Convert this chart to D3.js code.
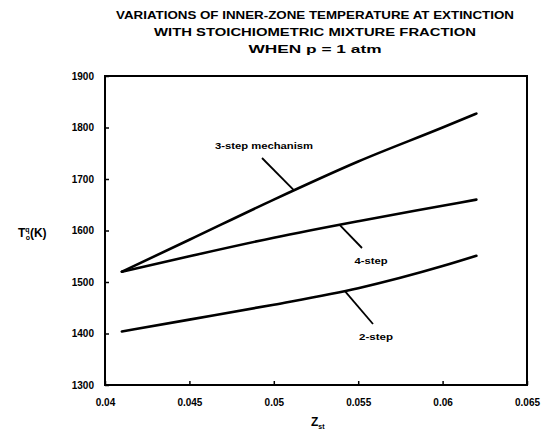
<!DOCTYPE html>
<html>
<head>
<meta charset="utf-8">
<script src="https://cdn.jsdelivr.net/npm/d3@7"></script>
<style>
  body { margin: 0; background: #fff; }
  svg { display: block; font-family: "Liberation Sans", Arial, sans-serif; font-weight: bold; }
</style>
</head>
<body>
<svg id="chart" width="543" height="435"></svg>
<script>
// valeurs
const zst = [0.041, 0.045, 0.05, 0.055, 0.06, 0.062];
const troisEtapes = [1520, 1582, 1660, 1734, 1800, 1827];
const quatreEtapes = [1520, 1550, 1586, 1618, 1648, 1660];
const deuxEtapes = [1404, 1427, 1456, 1488, 1531, 1551];
const xTicks = [0.04, 0.045, 0.05, 0.055, 0.06, 0.065];
const xTickLabels = ["0.04", "0.045", "0.05", "0.055", "0.06", "0.065"];
const yTicks = [1300, 1400, 1500, 1600, 1700, 1800, 1900];
const titres = [
  "VARIATIONS OF INNER-ZONE TEMPERATURE AT EXTINCTION",
  "WITH STOICHIOMETRIC MIXTURE FRACTION",
  "WHEN p = 1 atm"
];

const svg = d3.select("#chart");
const margin = { top: 76, right: 16, bottom: 50, left: 105 };
const width = 543 - margin.left - margin.right;
const height = 435 - margin.top - margin.bottom;

const g = svg.append("g")
    .attr("transform", `translate(${margin.left}, ${margin.top})`);

const x = d3.scaleLinear().domain([0.04, 0.065]).range([0, width]);
const y = d3.scaleLinear().domain([1300, 1900]).range([height, 0]);

// titre
const largeurs = [398, 322, 133];
titres.forEach((t, i) => {
  svg.append("text")
      .attr("x", 315)
      .attr("y", 19 + i * 17)
      .attr("text-anchor", "middle")
      .attr("font-size", 11)
      .attr("textLength", largeurs[i])
      .attr("lengthAdjust", "spacingAndGlyphs")
      .text(t);
});

// cadre
g.append("rect")
    .attr("width", width)
    .attr("height", height)
    .attr("fill", "none")
    .attr("stroke", "#000")
    .attr("stroke-width", 2);

// axes
const xAxis = d3.axisBottom(x)
    .tickValues(xTicks)
    .tickFormat((d, i) => xTickLabels[i])
    .tickSize(-4)
    .tickPadding(14);
const yAxis = d3.axisLeft(y)
    .tickValues(yTicks)
    .tickFormat(d3.format("d"))
    .tickSize(-4)
    .tickPadding(11);

g.append("g")
    .attr("transform", `translate(0, ${height})`)
    .call(xAxis)
    .call(a => a.select(".domain").remove());
g.append("g")
    .call(yAxis)
    .call(a => a.select(".domain").remove());

g.selectAll(".tick line").attr("stroke", "#000").attr("stroke-width", 1.5);
g.selectAll(".tick text")
    .attr("font-size", 10)
    .attr("font-weight", "bold")
    .attr("font-family", "Liberation Sans, Arial, sans-serif")
    .attr("fill", "#000");

// courbes
const ligne = vals => d3.line()
    .x((d, i) => x(zst[i]))
    .y(d => y(d))
    .curve(d3.curveMonotoneX)(vals);

[troisEtapes, quatreEtapes, deuxEtapes].forEach(serie => {
  g.append("path")
      .attr("d", ligne(serie))
      .attr("fill", "none")
      .attr("stroke", "#000")
      .attr("stroke-width", 2.6)
      .attr("stroke-linecap", "round");
});

// étiquettes avec traits de rappel
const etiquettes = [
  { texte: "3-step mechanism", tx: 264, ty: 149, lg: 98, x1: 262, y1: 158, serie: troisEtapes, zx: 0.0512 },
  { texte: "4-step", tx: 371, ty: 264, lg: 33, x1: 362, y1: 248, serie: quatreEtapes, zx: 0.0539 },
  { texte: "2-step", tx: 376, ty: 340, lg: 34, x1: 373, y1: 324, serie: deuxEtapes, zx: 0.0542 }
];
etiquettes.forEach(e => {
  const yv = d3.scaleLinear().domain(zst).range(e.serie)(e.zx);
  svg.append("line")
      .attr("x1", e.x1)
      .attr("y1", e.y1)
      .attr("x2", margin.left + x(e.zx))
      .attr("y2", margin.top + y(yv))
      .attr("stroke", "#000")
      .attr("stroke-width", 1.8);
  svg.append("text")
      .attr("x", e.tx)
      .attr("y", e.ty)
      .attr("text-anchor", "middle")
      .attr("font-size", 9)
      .attr("textLength", e.lg)
      .attr("lengthAdjust", "spacingAndGlyphs")
      .text(e.texte);
});

// titres des axes
const yLabel = svg.append("text")
    .attr("x", 18)
    .attr("y", 237)
    .attr("font-size", 12);
yLabel.append("tspan").text("T");
yLabel.append("tspan").attr("font-size", 7).attr("dy", -5).text("q");
yLabel.append("tspan").attr("font-size", 7).attr("dx", -4).attr("dy", 8).text("o");
yLabel.append("tspan").attr("dy", -3).text("(K)");

const xLabel = svg.append("text")
    .attr("x", 311)
    .attr("y", 426)
    .attr("font-size", 12);
xLabel.append("tspan").text("Z");
xLabel.append("tspan").attr("font-size", 7).attr("dy", 3).text("st");
</script>
</body>
</html>
